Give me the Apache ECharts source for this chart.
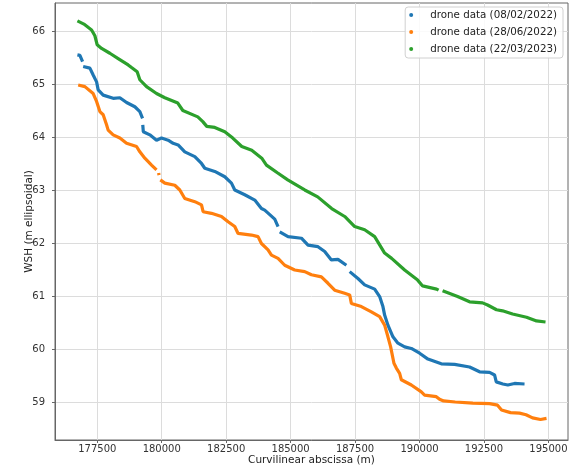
<!DOCTYPE html>
<html>
<head>
<meta charset="utf-8">
<script src="https://cdn.jsdelivr.net/npm/echarts@6/dist/echarts.min.js"></script>
<style>
  html, body { margin: 0; padding: 0; background: #fff; }
  #chart { width: 578px; height: 469px; }
</style>
</head>
<body>
<div id="chart"></div>
<script>
// values; null marks a gap in the record
var blueX = [176729, 176826, 176891, 176930, null, 176953, 177213, 177341, 177473, 177535, 177729, 178116, 178376,
    178636, 178957, 179151, 179256, null, 179265, 179285, 179539, 179798, 179992, 180248, 180442, 180636, 180895,
    181283, 181543, 181671, 182058, 182446, 182705, 182833, 183221, 183609, 183868, 183996, 184384, 184512, null,
    184578, 184899, 185419, 185675, 186062, 186322, 186581, 186837, 187163, null, 187291, 187612, 187872, 188260,
    188454, 188581, 188647, 188775, 188969, 189163, 189423, 189682, 190004, 190326, 190845, 191361, 191942, 192330,
    192717, 192911, 192977, 193233, 193426, 193686, 194074];
var blueY = [65.55, 65.54, 65.51, 65.42, null, 65.33, 65.30, 65.17, 65.04, 64.89, 64.79, 64.73, 64.74,
    64.65, 64.57, 64.48, 64.35, null, 64.23, 64.10, 64.04, 63.94, 63.98, 63.94, 63.88, 63.85, 63.72,
    63.63, 63.50, 63.41, 63.35, 63.25, 63.13, 63.00, 62.91, 62.81, 62.65, 62.62, 62.45, 62.31, null,
    62.21, 62.12, 62.09, 61.96, 61.93, 61.84, 61.68, 61.69, 61.58, null, 61.46, 61.33, 61.21, 61.13,
    60.99, 60.80, 60.64, 60.45, 60.23, 60.11, 60.04, 60.01, 59.92, 59.81, 59.72, 59.71, 59.66, 59.57,
    59.56, 59.51, 59.38, 59.34, 59.32, 59.35, 59.34];

var orangeX = [176760, 177019, 177341, 177473, 177601, 177729, 177860, 177922, 178116, 178376, 178636, 179023,
    179151, 179345, 179605, 179798, null, 179880, 179895, null, 179946, 180120, 180508, 180702, 180895, 181283,
    181543, 181605, 181930, 182318, 182574, 182833, 182961, 183481, 183736, 183868, 184124, 184256, 184512,
    184771, 185159, 185547, 185806, 186194, 186450, 186709, 187097, 187291, 187357, 187744, 188132, 188454,
    188647, 188775, 188880, 189008, 189101, 189229, 189295, 189682, 190070, 190198, 190651, 190779, 190934,
    191384, 192070, 192717, 193027, 193182, 193531, 193880, 194132, 194384, 194694, 194927];
var orangeY = [64.98, 64.95, 64.82, 64.67, 64.48, 64.42, 64.23, 64.13, 64.04, 63.98, 63.88, 63.82,
    63.72, 63.60, 63.47, 63.38, null, 63.32, 63.28, null, 63.19, 63.13, 63.09, 63.00, 62.84, 62.78,
    62.72, 62.59, 62.56, 62.50, 62.40, 62.31, 62.18, 62.15, 62.12, 61.99, 61.87, 61.77, 61.71,
    61.58, 61.49, 61.46, 61.40, 61.36, 61.24, 61.11, 61.05, 61.02, 60.86, 60.80, 60.70, 60.61,
    60.45, 60.23, 60.04, 59.73, 59.64, 59.54, 59.42, 59.32, 59.19, 59.13, 59.10, 59.05, 59.02,
    59.00, 58.98, 58.97, 58.94, 58.85, 58.80, 58.79, 58.76, 58.70, 58.67, 58.69];

var greenX = [176729, 176981, 177279, 177407, 177496, 177667, 177988, 178310, 178698, 178829, 179047, 179151,
    179411, 179798, 180120, 180624, 180818, 181399, 181593, 181748, 182058, 182446, 182756, 183105, 183492,
    183880, 184062, 184500, 184888, 185547, 186050, 186593, 187097, 187485, 187872, 188260, 188647, 188919,
    189423, 189927, 190120, 190663, 190740, null, 190895, 191477, 191942, 192446, 192640, 192988, 193221,
    193609, 194151, 194539, 194888];
var greenY = [66.19, 66.13, 66.02, 65.91, 65.74, 65.67, 65.58, 65.48, 65.36, 65.31, 65.23, 65.08,
    64.95, 64.82, 64.74, 64.64, 64.50, 64.38, 64.29, 64.20, 64.18, 64.10, 63.98, 63.82, 63.75,
    63.60, 63.47, 63.32, 63.19, 63.00, 62.87, 62.65, 62.50, 62.31, 62.25, 62.12, 61.81, 61.71,
    61.49, 61.30, 61.19, 61.13, 61.11, null, 61.10, 60.99, 60.89, 60.87, 60.83, 60.74, 60.72,
    60.66, 60.60, 60.53, 60.51];

var seriesNames = ['drone data (08/02/2022)', 'drone data (28/06/2022)', 'drone data (22/03/2023)'];
var seriesColors = ['#1f77b4', '#ff7f0e', '#2ca02c'];
var xTicks = [177500, 180000, 182500, 185000, 187500, 190000, 192500, 195000];
var yTicks = [59, 60, 61, 62, 63, 64, 65, 66];

function pairs(xs, ys) {
    var out = [];
    for (var i = 0; i < xs.length; i++) {
        out.push(xs[i] === null ? ['-', '-'] : [xs[i], ys[i]]);
    }
    return out;
}

var allData = [pairs(blueX, blueY), pairs(orangeX, orangeY), pairs(greenX, greenY)];

var myChart = echarts.init(document.getElementById('chart'));
var option = {
    animation: false,
    textStyle: { fontFamily: 'DejaVu Sans' },
    grid: {
        left: 55, right: 10, top: 3, bottom: 29,
        outerBoundsMode: 'none',
        containLabel: false,
        show: true, borderColor: '#666', borderWidth: 1
    },
    legend: {
        orient: 'vertical',
        right: 15, top: 7,
        padding: [2, 6, 3, 4],
        itemGap: 5,
        itemWidth: 20, itemHeight: 4,
        icon: 'circle',
        backgroundColor: 'rgba(255,255,255,0.85)',
        borderColor: '#d0d0d0', borderWidth: 1, borderRadius: 3,
        textStyle: { fontSize: 10.3, color: '#222', lineHeight: 12, padding: [0, 0, 0, 4] },
        data: seriesNames
    },
    xAxis: {
        type: 'value',
        min: 175860, max: 195760,
        name: 'Curvilinear abscissa (m)',
        nameLocation: 'middle', nameGap: 15, nameMoveOverlap: false,
        nameTextStyle: { fontSize: 10.5, color: '#222' },
        axisLine: { show: true, lineStyle: { color: '#666' } },
        axisTick: { show: true, length: 3, lineStyle: { color: '#666' }, customValues: xTicks },
        axisLabel: { fontSize: 10, color: '#333', margin: 4, customValues: xTicks, formatter: function (v) { return String(v); } },
        splitLine: { show: true, lineStyle: { color: '#dcdcdc' } }
    },
    yAxis: {
        type: 'value',
        min: 58.283, max: 66.528,
        name: 'WSH (m ellipsoidal)',
        nameLocation: 'middle', nameGap: 20, nameRotate: 90, nameMoveOverlap: false,
        nameTextStyle: { fontSize: 10.5, color: '#222' },
        axisLine: { show: true, lineStyle: { color: '#666' } },
        axisTick: { show: true, length: 3, lineStyle: { color: '#666' }, customValues: yTicks },
        axisLabel: { fontSize: 10, color: '#333', margin: 10, customValues: yTicks },
        splitLine: { show: true, lineStyle: { color: '#dcdcdc' } }
    },
    series: seriesNames.map(function (name, i) {
        return {
            name: name,
            type: 'line',
            data: allData[i],
            showSymbol: false,
            symbol: 'circle',
            connectNulls: false,
            color: seriesColors[i],
            lineStyle: { width: 3.2, color: seriesColors[i] }
        };
    })
};
myChart.setOption(option);
</script>
</body>
</html>
